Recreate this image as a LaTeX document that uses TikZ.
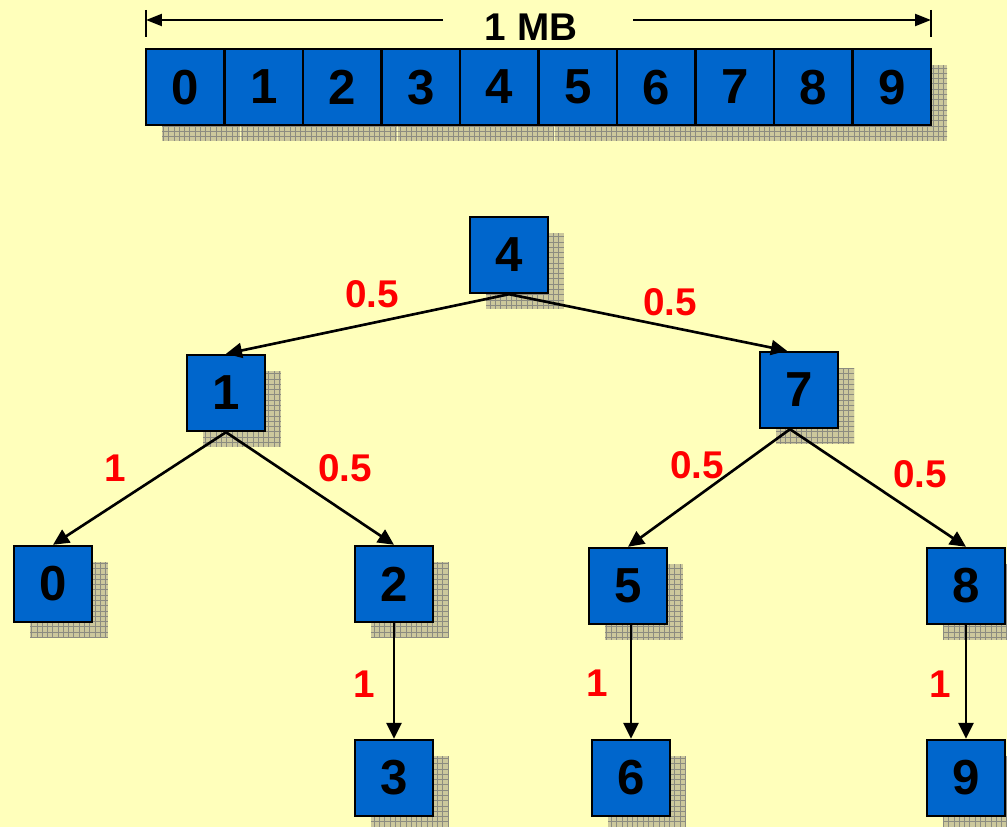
\documentclass[tikz,border=0pt]{standalone}
\usepackage{fontspec}
\setmainfont{Liberation Sans}
\usepackage{xcolor}
\usepackage{tikz}
\usetikzlibrary{arrows.meta,calc,patterns}

\definecolor{bgyellow}{HTML}{FFFFBB}
\definecolor{boxblue}{HTML}{0066CC}
\definecolor{shadowtan}{HTML}{CCC89C}
\definecolor{gridgray}{HTML}{8C8C80}

\tikzset{
  blk/.style={draw=black, line width=1.4pt, fill=boxblue,
    minimum width=1.56cm, minimum height=1.52cm, inner sep=0pt,
    font=\fontsize{28}{28}\selectfont\bfseries,
    preaction={fill=shadowtan, transform canvas={xshift=0.32cm,yshift=-0.32cm}},
    preaction={pattern=grid, pattern color=gridgray,
      transform canvas={xshift=0.32cm,yshift=-0.32cm}}},
  wt/.style={text=red, font=\fontsize{22}{22}\selectfont\bfseries},
  link/.style={line width=1.5pt, -{Triangle[length=0.32cm,width=0.3cm]}},
  dim/.style={line width=1.3pt, -{Triangle[length=0.32cm,width=0.24cm]}}
}

\begin{document}
\begin{tikzpicture}[x=0.02cm, y=-0.02cm]
    \useasboundingbox (0,0) rectangle (1007,827);
    \fill[bgyellow] (0,0) rectangle (1007,827);

    % block row
    \foreach \i in {0,...,9}
        \node[blk, minimum width=1.57cm, text depth=-0.06cm] (c\i) at ({185.25+78.5*\i},87) {\i};

    % size marker
    \node[font=\fontsize{22}{22}\selectfont\bfseries] (mb) at (531,27) {1 MB};
    \coordinate (tl) at (146,20);
    \coordinate (tr) at (931,20);
    \coordinate (gl) at (443,20);
    \coordinate (gr) at (633,20);
    \draw[line width=1.3pt] ([yshift=0.2cm]tl) -- ([yshift=-0.34cm]tl);
    \draw[line width=1.3pt] ([yshift=0.2cm]tr) -- ([yshift=-0.34cm]tr);
    \draw[dim] (gl) -- (tl);
    \draw[dim] (gr) -- (tr);

    % tree
    \node[blk] (n4) at (509,255) {4};
    \node[blk] (n1) at (226,393) {1};
    \node[blk] (n7) at (799,390) {7};
    \node[blk] (n0) at (53,584) {0};
    \node[blk] (n2) at (394,584) {2};
    \node[blk] (n5) at (628,586) {5};
    \node[blk] (n8) at (966,586) {8};
    \node[blk] (n3) at (394,778) {3};
    \node[blk] (n6) at (631,778) {6};
    \node[blk] (n9) at (966,778) {9};

    \draw[link] (n4.south) -- (n1.north);
    \draw[link] (n4.south) -- ([xshift=-0.24cm]n7.north);
    \draw[link] (n1.south) -- (n0.north);
    \draw[link] (n1.south) -- (n2.north);
    \draw[link] ([xshift=-0.18cm]n7.south) -- (n5.north);
    \draw[link] ([xshift=-0.18cm]n7.south) -- (n8.north);
    \draw[link] (n3.north |- n2.south) -- (n3.north);
    \draw[link] (n6.north |- n5.south) -- (n6.north);
    \draw[link] (n8.south) -- (n9.north);

    % weights
    \node[wt] (w41) at (372,294) {0.5};
    \node[wt] (w47) at (670,302) {0.5};
    \node[wt] (w10) at (115,468) {1};
    \node[wt] (w12) at (345,468) {0.5};
    \node[wt] (w75) at (697,465) {0.5};
    \node[wt] (w78) at (920,474) {0.5};
    \node[wt] (w23) at (364,684) {1};
    \node[wt] (w56) at (597,683) {1};
    \node[wt] (w89) at (940,684) {1};
\end{tikzpicture}
\end{document}
